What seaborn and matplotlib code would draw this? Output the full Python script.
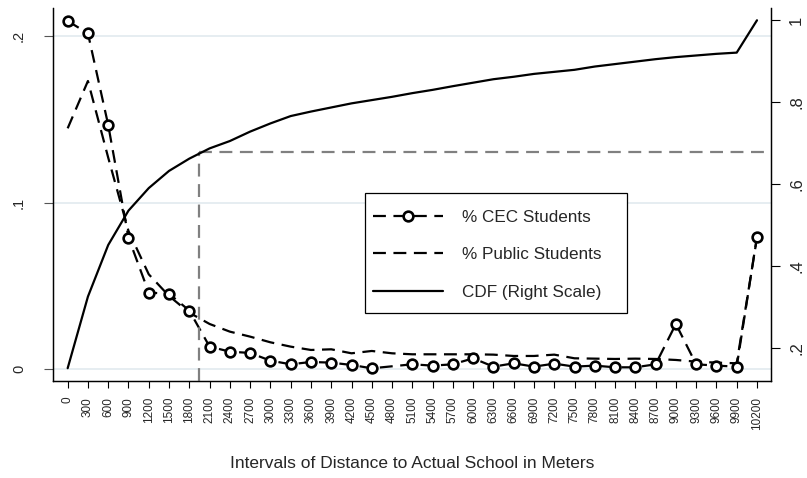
import matplotlib
matplotlib.use("Agg")
import matplotlib.pyplot as plt
import seaborn as sns
from matplotlib.lines import Line2D
from matplotlib.patches import Rectangle

sns.set_style("white")
plt.rcParams['font.family'] = ['Liberation Sans', 'DejaVu Sans']

# ---------------- data ----------------
distances = [0, 300, 600, 900, 1200, 1500, 1800, 2100, 2400, 2700, 3000, 3300,
             3600, 3900, 4200, 4500, 4800, 5100, 5400, 5700, 6000, 6300, 6600,
             6900, 7200, 7500, 7800, 8100, 8400, 8700, 9000, 9300, 9600, 9900,
             10200]

# CEC share (no observation at 4800)
cec_x = [0, 300, 600, 900, 1200, 1500, 1800, 2100, 2400, 2700, 3000, 3300,
         3600, 3900, 4200, 4500, 5100, 5400, 5700, 6000, 6300, 6600,
         6900, 7200, 7500, 7800, 8100, 8400, 8700, 9000, 9300, 9600, 9900,
         10200]
cec_share = [0.209, 0.2016, 0.1466, 0.079, 0.046, 0.0454, 0.0352, 0.0136,
             0.0106, 0.0098, 0.0052, 0.003, 0.0044, 0.004, 0.0026, 0.0006,
             0.003, 0.0022, 0.003, 0.0066, 0.0016, 0.0036, 0.0016, 0.0034,
             0.0016, 0.0022, 0.0012, 0.0012, 0.003, 0.0272, 0.003, 0.0022,
             0.0016, 0.0796]

public_share = [0.1446, 0.173, 0.127, 0.083, 0.057, 0.044, 0.034, 0.0272,
                0.0226, 0.0196, 0.0162, 0.0136, 0.0116, 0.012, 0.0096, 0.011,
                0.0096, 0.009, 0.009, 0.009, 0.009, 0.0088, 0.008, 0.008,
                0.0088, 0.0066, 0.0064, 0.0062, 0.0064, 0.0062, 0.0056,
                0.0046, 0.004, 0.0036, 0.079]

cdf = [0.150, 0.325, 0.451, 0.535, 0.590, 0.632, 0.662, 0.687, 0.705, 0.728,
       0.748, 0.766, 0.777, 0.787, 0.797, 0.805, 0.813, 0.822, 0.830, 0.839,
       0.8475, 0.856, 0.862, 0.869, 0.874, 0.879, 0.887, 0.893, 0.899, 0.905,
       0.910, 0.914, 0.918, 0.921, 1.0]

ref_distance = 1950
ref_cdf = 0.677

left_ticks = [0, 0.1, 0.2]
left_labels = ["0", ".1", ".2"]
right_ticks = [0.2, 0.4, 0.6, 0.8, 1.0]
right_labels = [".2", ".4", ".6", ".8", "1"]

labels = ["% CEC Students", "% Public Students", "CDF (Right Scale)"]
xlabel = "Intervals of Distance to Actual School in Meters"

# ---------------- figure ----------------
W, H = 807, 478
fig = plt.figure(figsize=(W / 100, H / 100), dpi=100)
ax = fig.add_axes([53 / W, 1 - 381.3 / H, (770.7 - 53) / W, (381.3 - 8) / H])
ax2 = ax.twinx()

XMIN, XMAX = -217, 10403
ax.set_xlim(XMIN, XMAX)
ax.set_ylim(-0.0072, 0.2168)
ax2.set_ylim(0.118, 1.030)

# light grid
for t in left_ticks:
    ax.axhline(t, color="#e4ecf0", lw=1.3, zorder=0)

dash = (0, (5.8, 3.4))
lw = 1.6

sns.lineplot(x=distances, y=public_share, ax=ax, color="black", lw=lw,
             linestyle=dash, zorder=3)
sns.lineplot(x=cec_x, y=cec_share, ax=ax, color="black", lw=lw,
             linestyle=dash, marker="o", markersize=7,
             markerfacecolor="white", markeredgecolor="black",
             markeredgewidth=1.9, zorder=4)

sns.lineplot(x=distances, y=cdf, ax=ax2, color="black", lw=lw, zorder=3)

# reference lines
ax2.vlines(ref_distance, 0.118, ref_cdf, colors="#808080", lw=1.6,
           linestyles=[(0, (5.8, 3.4))], zorder=2)
ax2.hlines(ref_cdf, ref_distance, XMAX, colors="#808080", lw=1.6,
           linestyles=[(0, (5.8, 3.4))], zorder=2)

# ---- axes styling ----
for a in (ax, ax2):
    a.spines["top"].set_visible(False)
    for s in ("left", "right", "bottom"):
        a.spines[s].set_linewidth(0.9)
        a.spines[s].set_color("black")

ax.set_xticks(distances)
ax.set_xticklabels([str(d) for d in distances], rotation=90, fontsize=8.5)
ax.tick_params(axis="x", length=4.7, width=0.8, pad=6.5, color="black",
               bottom=True)
ax.set_yticks(left_ticks)
ax.set_yticklabels(left_labels, rotation=90, va="center", fontsize=10.5)
ax.tick_params(axis="y", length=6.5, width=0.8, pad=13, color="#555555",
               left=True)
ax2.set_yticks(right_ticks)
ax2.set_yticklabels(right_labels, rotation=90, va="center", fontsize=12)
ax2.tick_params(axis="y", length=6.2, width=0.8, pad=7, color="black",
                right=True)
ax.set_xlabel(xlabel, fontsize=12.5, labelpad=19)
ax.set_ylabel("")
ax2.set_ylabel("")

# ---- legend ----
h_cec = Line2D([], [], color="black", lw=lw, linestyle=dash, marker="o",
               markersize=7, markerfacecolor="white",
               markeredgecolor="black", markeredgewidth=1.9)
h_pub = Line2D([], [], color="black", lw=lw, linestyle=dash)
h_cdf = Line2D([], [], color="black", lw=lw)
leg = ax2.legend([h_cec, h_pub, h_cdf], labels, loc="upper left",
                 bbox_to_anchor=(372.7 / W, 1 - 209.5 / H),
                 bbox_transform=fig.transFigure, frameon=False,
                 fontsize=12.3, handlelength=4.1, handletextpad=1.15,
                 labelspacing=1.32, borderpad=0, borderaxespad=0,
                 markerscale=1.0)
leg.set_zorder(10)
box = Rectangle((365 / W, 1 - 313 / H), (627 - 365) / W, (313 - 193) / H,
                transform=fig.transFigure, fill=True, facecolor="white",
                edgecolor="black", lw=0.9, zorder=9)
ax2.add_artist(box)
box.set_clip_on(False)

fig.savefig("out.png", dpi=100)
